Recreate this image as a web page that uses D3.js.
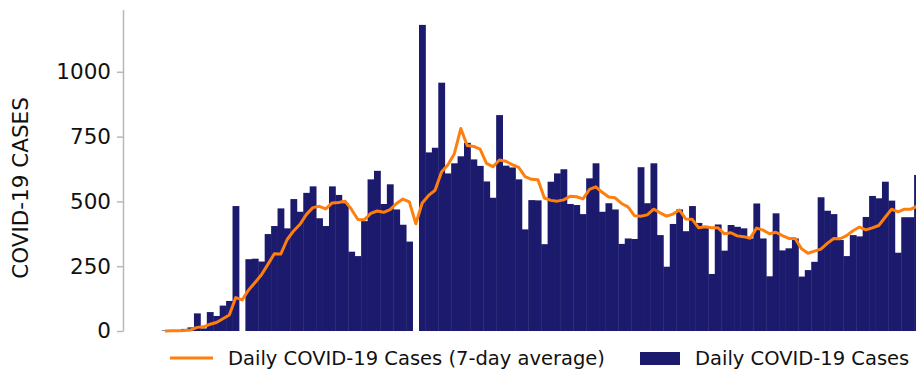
<!DOCTYPE html>
<html>
<head>
<meta charset="utf-8">
<script src="https://cdn.jsdelivr.net/npm/d3@7"></script>
<style>
  body { margin: 0; background: #fff; }
  svg { display: block; font-family: "DejaVu Sans", sans-serif; }
</style>
</head>
<body>
<div id="chart"></div>
<script>
// daily case counts (one per day)
const dailyCases = [
  2, 4, 3, 8, 14, 68, 10, 73, 58, 98, 116, 482, 0, 277, 279, 268, 374, 405, 473, 396,
  509, 460, 533, 558, 435, 405, 558, 525, 493, 306, 289, 424, 585, 618, 490, 566, 469, 410, 345, 0,
  1181, 689, 707, 958, 608, 647, 674, 726, 662, 637, 577, 514, 833, 638, 631, 585, 392, 505, 504, 335,
  576, 608, 624, 490, 486, 451, 589, 647, 460, 493, 469, 336, 357, 355, 632, 493, 647, 370, 248, 413,
  469, 385, 482, 417, 402, 220, 411, 310, 409, 402, 396, 357, 492, 357, 211, 454, 311, 319, 357, 210,
  235, 267, 516, 464, 451, 351, 289, 370, 365, 440, 521, 512, 576, 503, 302, 439, 439, 602
];

// 7-day average
const avgCases = [
  0, 1, 1, 2, 4, 14, 16, 26, 33, 47, 62, 129, 120, 158, 187, 217, 257, 298, 297, 353,
  386, 412, 450, 476, 481, 471, 494, 496, 501, 469, 430, 429, 454, 463, 458, 468, 492, 509, 498, 414,
  494, 523, 543, 613, 641, 684, 781, 716, 712, 702, 647, 634, 660, 655, 642, 631, 596, 585, 584, 513,
  504, 501, 506, 520, 518, 510, 546, 556, 535, 517, 514, 492, 479, 445, 443, 448, 470, 456, 443, 451,
  467, 432, 431, 398, 402, 398, 398, 375, 379, 367, 364, 358, 397, 389, 375, 381, 368, 357, 357, 317,
  300, 308, 316, 338, 357, 356, 368, 387, 401, 390, 398, 407, 439, 470, 460, 470, 470, 482
];

const yTicks = [0, 250, 500, 750, 1000];
const yTitle = "COVID-19 CASES";
const legendLabels = ["Daily COVID-19 Cases (7-day average)", "Daily COVID-19 Cases"];

const width = 916;
const height = 377;

const barColor = "#1b1a6c";
const lineColor = "#ff7f0e";
const axisColor = "#b8b8b8";

const days = d3.range(dailyCases.length);
const step = 6.43;
const xStart = 161.8;

const x = d3.scaleBand()
  .domain(days)
  .range([xStart, xStart + step * days.length])
  .padding(0);

const y = d3.scaleLinear()
  .domain([0, 1240])
  .range([331, 9.6]);

const svg = d3.select("#chart")
  .append("svg")
  .attr("width", width)
  .attr("height", height);

// bars
svg.append("g")
  .selectAll("rect")
  .data(days)
  .enter()
  .append("rect")
  .attr("x", (d) => x(d))
  .attr("y", (d) => y(dailyCases[d]))
  .attr("width", x.bandwidth() + 0.4)
  .attr("height", (d) => y(0) - y(dailyCases[d]))
  .attr("fill", barColor);

// 7-day average line
const line = d3.line()
  .x((d) => x(d) + x.bandwidth() / 2)
  .y((d) => y(avgCases[d]));

svg.append("path")
  .datum(days)
  .attr("d", line)
  .attr("fill", "none")
  .attr("stroke", lineColor)
  .attr("stroke-width", 3)
  .attr("stroke-linejoin", "round");

// y axis
const yAxis = svg.append("g")
  .attr("transform", "translate(123,0)")
  .call(d3.axisLeft(y)
    .tickValues(yTicks)
    .tickFormat(d3.format("d"))
    .tickSize(6)
    .tickSizeOuter(0)
    .tickPadding(6));

yAxis.select(".domain").attr("stroke", axisColor).attr("stroke-width", 1.5);
yAxis.selectAll(".tick line").attr("stroke", axisColor).attr("stroke-width", 1.5);
yAxis.selectAll(".tick text")
  .attr("fill", "#111")
  .style("font-size", "21.5px")
  .style("font-family", "DejaVu Sans");

svg.append("text")
  .text(yTitle)
  .attr("transform", "translate(28,188) rotate(-90)")
  .attr("text-anchor", "middle")
  .attr("fill", "#111")
  .style("font-size", "21.5px");

// legend
const legend = svg.append("g");

legend.append("line")
  .attr("x1", 170)
  .attr("x2", 213)
  .attr("y1", 358)
  .attr("y2", 358)
  .attr("stroke", lineColor)
  .attr("stroke-width", 3);

legend.append("text")
  .text(legendLabels[0])
  .attr("x", 228)
  .attr("y", 365)
  .attr("fill", "#111")
  .style("font-size", "19.5px");

legend.append("rect")
  .attr("x", 640)
  .attr("y", 352)
  .attr("width", 40)
  .attr("height", 13)
  .attr("fill", barColor);

legend.append("text")
  .text(legendLabels[1])
  .attr("x", 695)
  .attr("y", 365)
  .attr("fill", "#111")
  .style("font-size", "19.5px");
</script>
</body>
</html>
